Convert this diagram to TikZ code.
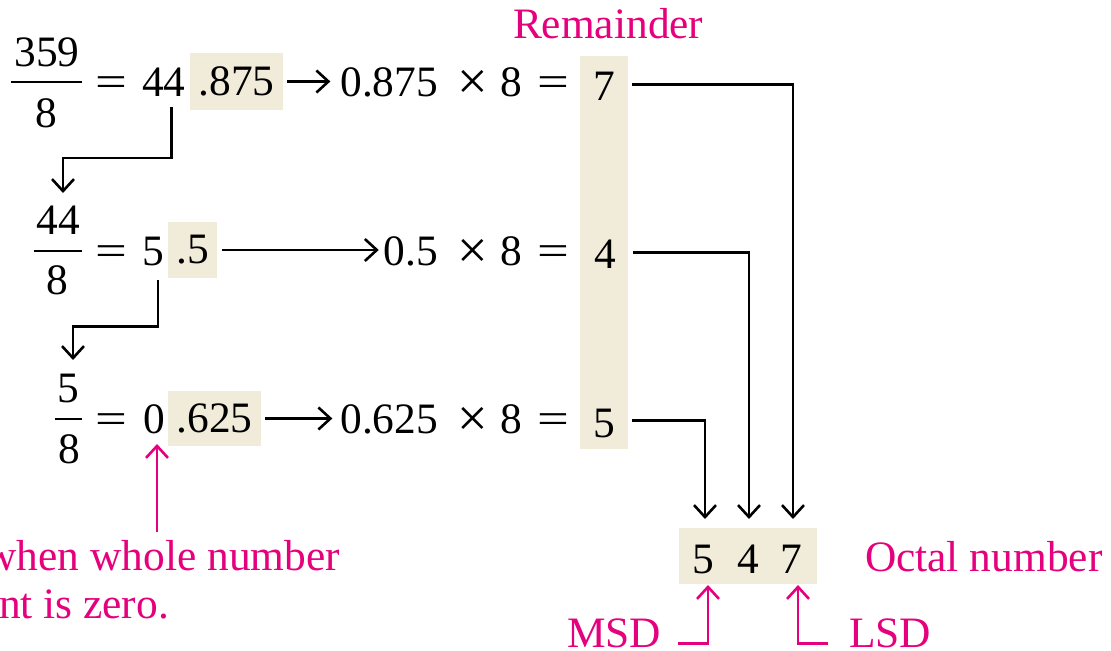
\documentclass[tikz,border=0pt]{standalone}
\usepackage{fontspec}
\setmainfont{Liberation Serif}
\usetikzlibrary{arrows.meta}
\definecolor{pinkc}{HTML}{E5007D}
\definecolor{boxc}{HTML}{F1ECDA}
\newcommand{\myeq}{\scalebox{1.3}[1]{=}}
\newcommand{\mytimes}{\scalebox{1.25}{×}}
\begin{document}
\begin{tikzpicture}[x=0.5pt,y=-0.5pt,
  every node/.style={inner sep=0pt, outer sep=0pt, font=\fontsize{21.7}{26}\selectfont},
  hl/.style={fill=boxc, draw=none},
  barline/.style={line width=1.2pt},
  arr/.style={line width=1.3pt, -{Straight Barb[length=6pt,width=11pt,line width=1.3pt]}},
  parr/.style={arr, draw=pinkc},
  ptext/.style={text=pinkc}]
\useasboundingbox (0,0) rectangle (1111,651);

% remainder column
\fill[boxc] (580,56) rectangle (628,449);
\node[ptext, anchor=base west] (rem) at (513,39) {Remainder};

% ---- row 1
\node[anchor=base] (n1) at (47,67) {359};
\node[anchor=base] (d1) at (46,128) {8};
\draw[barline] (11,82) -- (82,82);
\node[anchor=base] (e1) at (111,97) {\myeq};
\node[anchor=base west] (q1) at (142,97) {44};
\node[hl, minimum width=46.5pt, minimum height=28.5pt] (b1) at (236.5,81.5) {.875};
\node[anchor=base east] (m1) at (438,97) {0.875};
\node[anchor=base] (x1) at (473,100) {\mytimes};
\node[anchor=base] (g1) at (511.5,97) {8};
\node[anchor=base] (h1) at (553.5,97) {\myeq};
\node[anchor=base] (r1) at (604,101) {7};
\draw[arr, shorten <=2pt, shorten >=5pt] (b1.east) -- (b1.east -| m1.west);

% ---- row 2
\node[anchor=base] (n2) at (58,235) {44};
\node[anchor=base] (d2) at (57,295) {8};
\draw[barline] (34,251) -- (82,251);
\node[anchor=base] (e2) at (111,266) {\myeq};
\node[anchor=base west] (q2) at (142,266) {5};
\node[hl, minimum width=24.5pt, minimum height=28pt] (b2) at (192.5,250) {.5};
\node[anchor=base east] (m2) at (438,266) {0.5};
\node[anchor=base] (x2) at (473,269) {\mytimes};
\node[anchor=base] (g2) at (511.5,266) {8};
\node[anchor=base] (h2) at (553.5,266) {\myeq};
\node[anchor=base] (r2) at (605,269) {4};
\draw[arr, shorten <=2.5pt, shorten >=2.5pt] (b2.east) -- (b2.east -| m2.west);

% ---- row 3
\node[anchor=base] (n3) at (68,402) {5};
\node[anchor=base] (d3) at (69,463) {8};
\draw[barline] (55,419) -- (82,419);
\node[anchor=base] (e3) at (111,433) {\myeq};
\node[anchor=base west] (q3) at (143,433) {0};
\node[hl, minimum width=46.5pt, minimum height=27.5pt] (b3) at (214.5,418.5) {.625};
\node[anchor=base east] (m3) at (438,433) {0.625};
\node[anchor=base] (x3) at (473,436) {\mytimes};
\node[anchor=base] (g3) at (511.5,433) {8};
\node[anchor=base] (h3) at (553.5,433) {\myeq};
\node[anchor=base] (r3) at (604,437) {5};
\draw[arr, shorten <=2pt, shorten >=4pt] (b3.east) -- (b3.east -| m3.west);

% down elbows between rows
\coordinate (k1) at (63,193);
\coordinate (k2) at (73,360);
\draw[arr] ([xshift=4pt,yshift=-5pt]q1.south) -- ++(0,-25.5pt) -| (k1);
\draw[arr] ([xshift=2.5pt,yshift=-7pt]q2.south) -- ++(0,-23pt) -| (k2);

% octal result
\node[hl, minimum width=69pt, minimum height=28pt] (ob) at (748,556) {};
\node[anchor=base] (o5) at (703,573) {5};
\node[anchor=base] (o4) at (748,573) {4};
\node[anchor=base] (o7) at (791,573) {7};
\node[ptext, anchor=base west] (oct) at (865,571) {Octal number};

\draw[arr, shorten >=4.5pt] ([xshift=8.5pt,yshift=1.2pt]r1.east) -| ([xshift=1pt]o7 |- ob.north);
\draw[arr, shorten >=4.5pt] ([xshift=8.5pt,yshift=1.2pt]r2.east) -| ([xshift=0.5pt]o4 |- ob.north);
\draw[arr, shorten >=4.5pt] ([xshift=8.5pt,yshift=1.2pt]r3.east) -| ([xshift=1pt]o5 |- ob.north);

% MSD / LSD
\node[ptext, anchor=base west] (msd) at (567,647) {MSD};
\node[ptext, anchor=base west] (lsd) at (849,647) {LSD};
\draw[parr, shorten >=0.5pt] ([xshift=8.5pt,yshift=-5.2pt]msd.east) -| ([xshift=2.5pt]o5 |- ob.south);
\draw[parr, shorten >=0.5pt] ([xshift=-10.5pt,yshift=-5.2pt]lsd.west) -| ([xshift=3.5pt]o7 |- ob.south);

% note
\node[ptext, anchor=base east] (note1) at (340,570) {when whole number};
\node[ptext, anchor=base west] (note2) at (-1,618) {nt is zero.};
\coordinate (pn) at (157,532);
\draw[parr, shorten >=-1pt] (pn) -- (pn |- b3.south);
\end{tikzpicture}
\end{document}
